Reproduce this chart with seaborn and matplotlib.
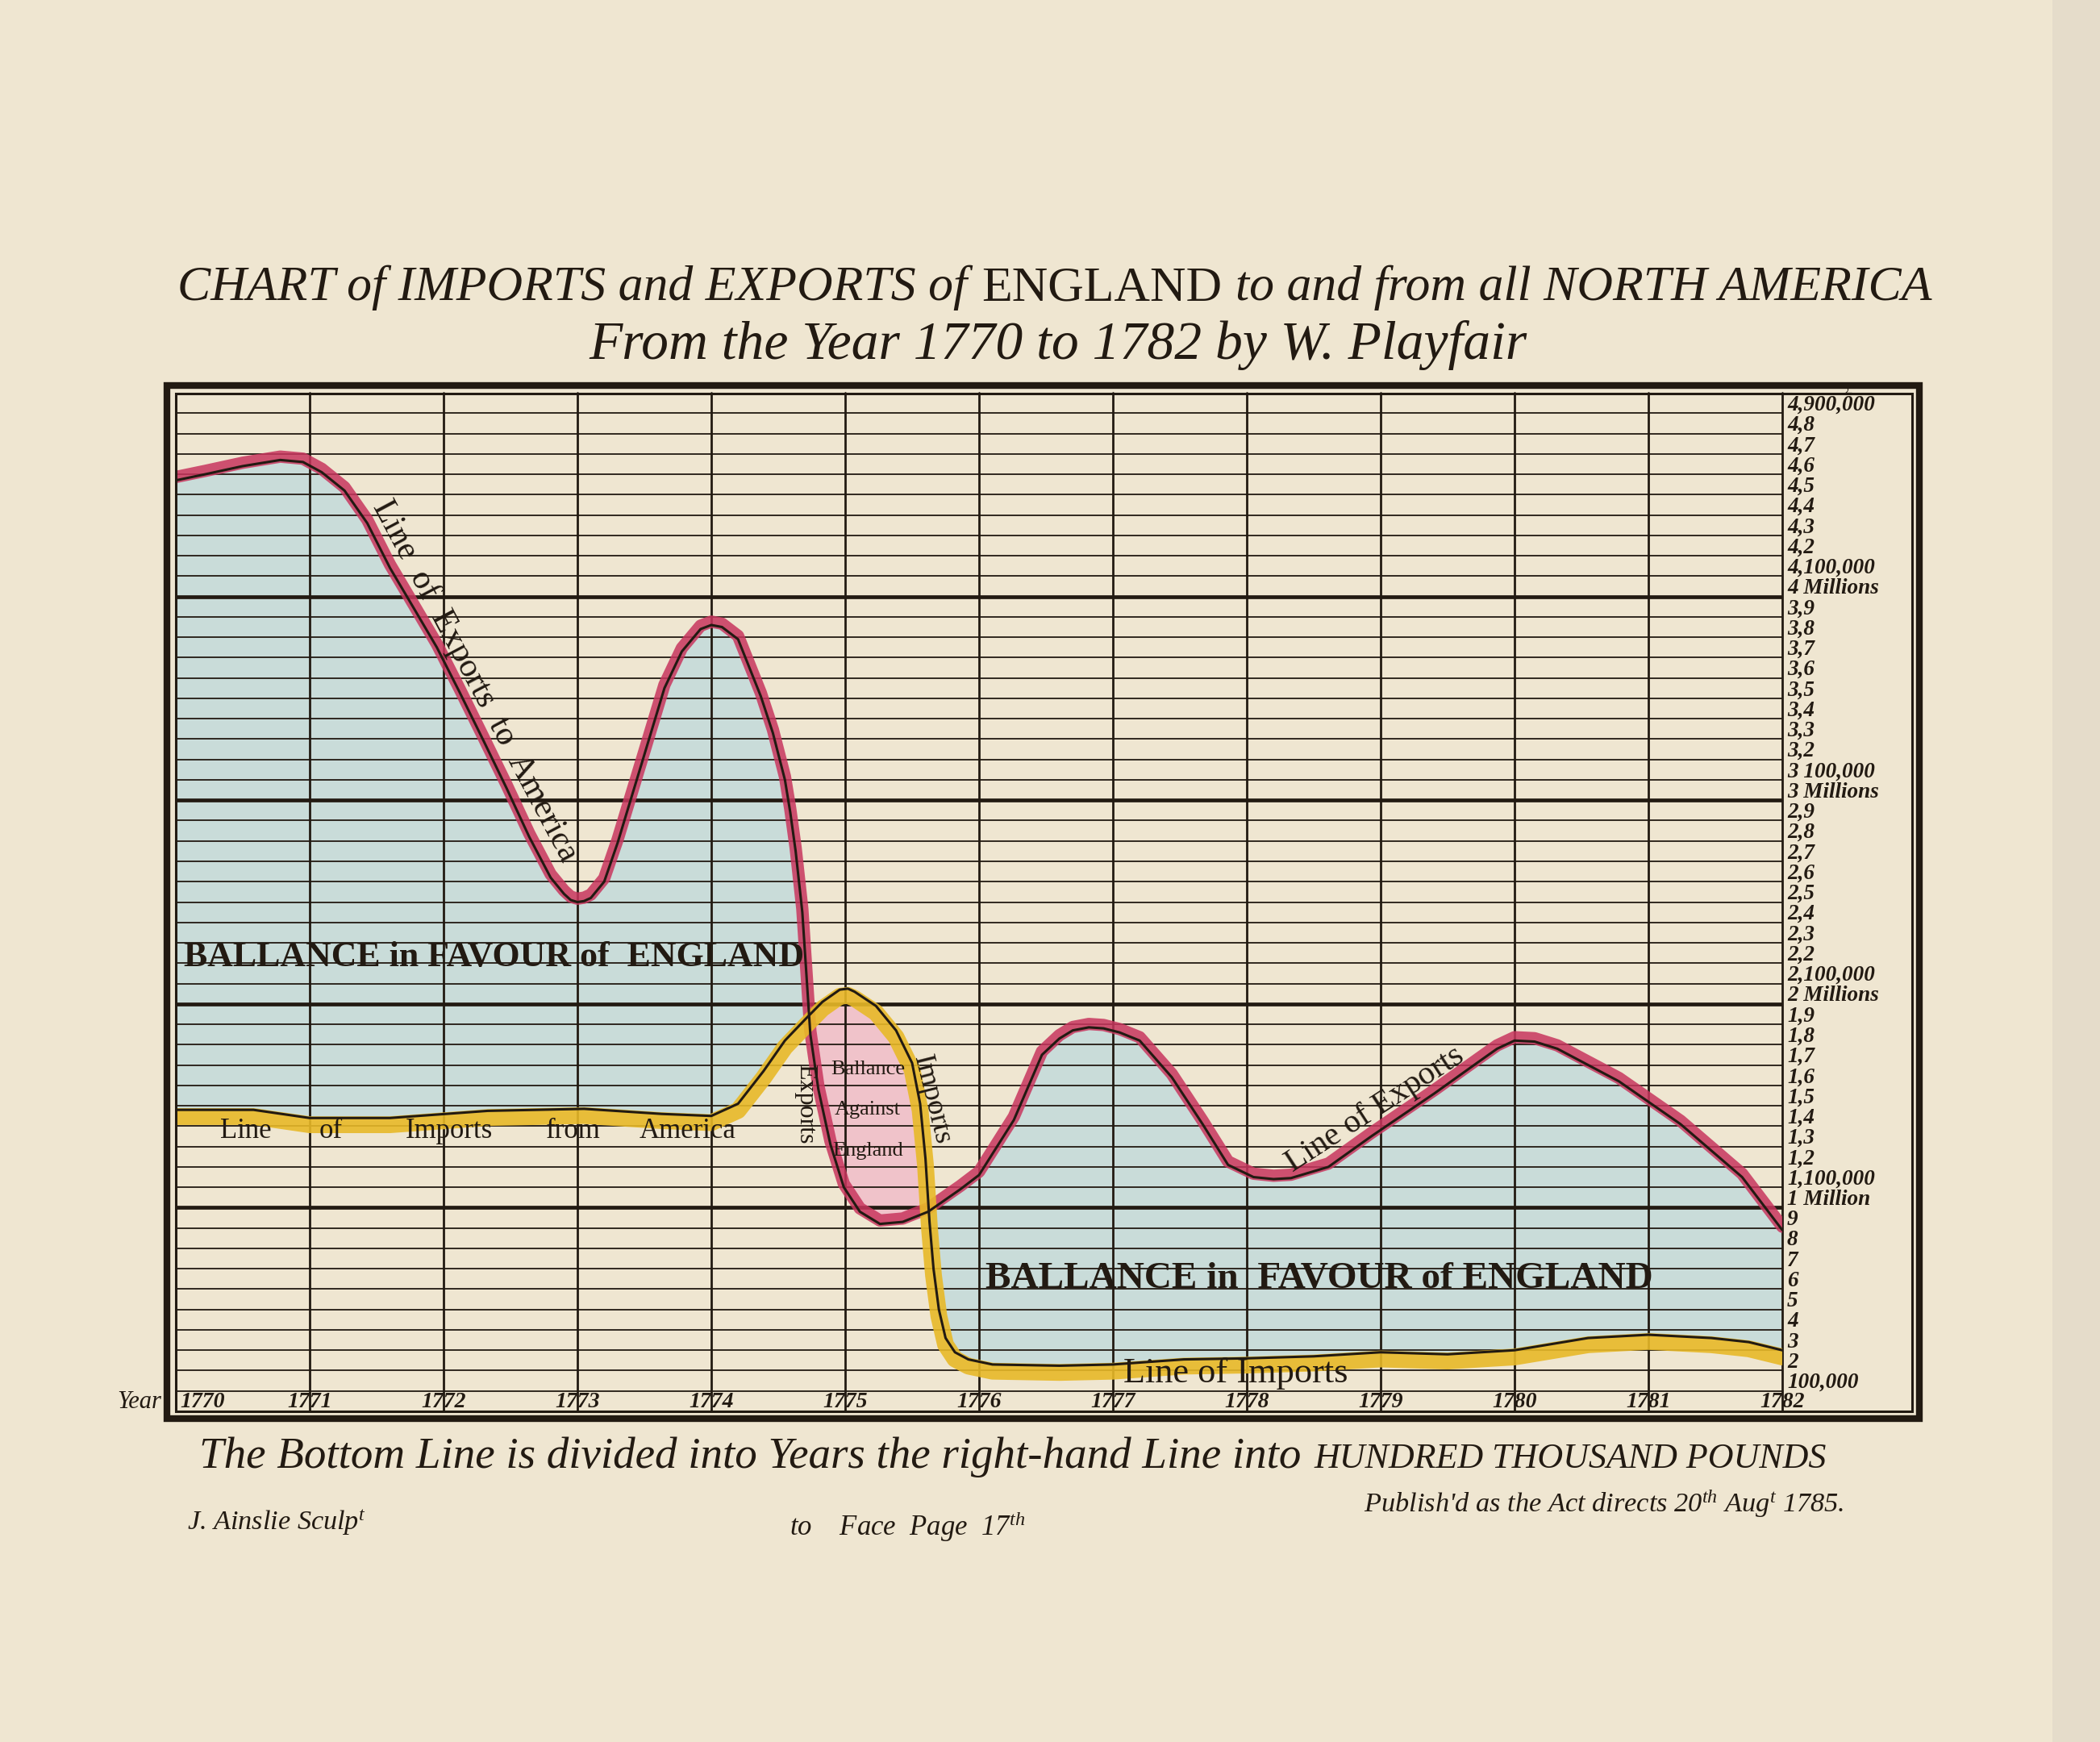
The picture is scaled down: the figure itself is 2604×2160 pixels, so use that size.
"""
Playfair's chart of imports and exports of England to and from North America,
1770-1782, redrawn with seaborn/matplotlib.
"""

import numpy as np
import pandas as pd
import matplotlib

matplotlib.use("Agg")
import matplotlib.pyplot as plt
from matplotlib.patches import Rectangle
from matplotlib.transforms import offset_copy, blended_transform_factory
import seaborn as sns

# values in hundred thousand pounds
export_years = [1770.00, 1770.22, 1770.50, 1770.78, 1770.95, 1771.09, 1771.26, 1771.43,
                1771.60, 1771.78, 1771.95, 1772.12, 1772.30, 1772.47, 1772.64, 1772.80,
                1772.90, 1772.95, 1773.00, 1773.05, 1773.10, 1773.20, 1773.30, 1773.48,
                1773.65, 1773.78, 1773.92, 1774.00, 1774.08, 1774.20, 1774.37, 1774.46,
                1774.55, 1774.59, 1774.63, 1774.68, 1774.71, 1774.74, 1774.80, 1774.89,
                1774.99, 1775.11, 1775.26, 1775.43, 1775.62, 1775.86, 1776.00, 1776.26,
                1776.47, 1776.60, 1776.70, 1776.82, 1776.93, 1777.05, 1777.20, 1777.44,
                1777.67, 1777.86, 1778.05, 1778.20, 1778.33, 1778.61, 1778.93, 1779.40,
                1779.73, 1779.87, 1780.00, 1780.15, 1780.32, 1780.78, 1781.24, 1781.70,
                1782.00]
export_values = [45.7, 46.0, 46.4, 46.7, 46.6, 46.1, 45.2, 43.6,
                 41.4, 39.4, 37.5, 35.3, 32.9, 30.6, 28.2, 26.2,
                 25.4, 25.1, 25.0, 25.05, 25.2, 26.0, 27.9, 31.8,
                 35.5, 37.3, 38.4, 38.6, 38.5, 37.9, 35.1, 33.3,
                 31.0, 29.4, 27.5, 24.5, 21.5, 18.5, 15.8, 13.1,
                 11.0, 9.8, 9.2, 9.3, 9.8, 10.9, 11.6, 14.3,
                 17.5, 18.3, 18.7, 18.85, 18.8, 18.6, 18.2, 16.4,
                 14.1, 12.1, 11.5, 11.4, 11.45, 12.0, 13.5, 15.6,
                 17.15, 17.8, 18.2, 18.15, 17.8, 16.2, 14.1, 11.5,
                 8.9]

import_years = [1770.00, 1770.58, 1771.00, 1771.60, 1772.33, 1773.05, 1773.63, 1774.00,
                1774.20, 1774.39, 1774.55, 1774.71, 1774.83, 1774.96, 1775.02, 1775.07,
                1775.23, 1775.38, 1775.50, 1775.56, 1775.60, 1775.63, 1775.66, 1775.70,
                1775.75, 1775.82, 1775.92, 1776.10, 1776.60, 1777.00, 1777.53, 1777.99,
                1778.50, 1779.00, 1779.50, 1780.00, 1780.55, 1781.00, 1781.47, 1781.75,
                1782.00]
import_values = [14.8, 14.8, 14.4, 14.4, 14.75, 14.85, 14.6, 14.5,
                 15.1, 16.7, 18.2, 19.3, 20.1, 20.7, 20.75, 20.6,
                 19.9, 18.7, 17.1, 15.1, 12.4, 9.3, 7.0, 5.0,
                 3.6, 2.9, 2.55, 2.3, 2.24, 2.3, 2.55, 2.6,
                 2.7, 2.9, 2.8, 3.0, 3.6, 3.76, 3.6, 3.4,
                 3.0]

year_ticks = list(range(1770, 1783))

scale_values = list(range(1, 50))
scale_labels = ["100,000", "2", "3", "4", "5", "6", "7", "8", "9",
                "1 Million", "1,100,000", "1,2", "1,3", "1,4", "1,5", "1,6", "1,7", "1,8", "1,9",
                "2 Millions", "2,100,000", "2,2", "2,3", "2,4", "2,5", "2,6", "2,7", "2,8", "2,9",
                "3 Millions", "3 100,000", "3,2", "3,3", "3,4", "3,5", "3,6", "3,7", "3,8", "3,9",
                "4 Millions", "4,100,000", "4,2", "4,3", "4,4", "4,5", "4,6", "4,7", "4,8",
                "4,900,000"]

PAPER = "#efe6d1"
INK = "#221a12"
BLUE = "#c9dcd9"
PINK = "#f0c3ca"
RED = "#c8365e"
YELLOW = "#e8b928"
SERIF = "Liberation Serif"

W, H, DPI = 2604, 2160, 100

sns.set_theme(style="white")
plt.rcParams["font.family"] = [SERIF, "DejaVu Serif"]
plt.rcParams["mathtext.fontset"] = "custom"
plt.rcParams["mathtext.rm"] = "Liberation Serif"
plt.rcParams["mathtext.it"] = "Liberation Serif:italic"


def fx(px):
    return px / W


def fy(py):
    return 1 - py / H


fig = plt.figure(figsize=(W / DPI, H / DPI), dpi=DPI, facecolor=PAPER)
renderer = fig.canvas.get_renderer()

ax = fig.add_axes([fx(218), fy(1750), fx(2210) - fx(218), fy(487) - fy(1750)])
ax.set_facecolor(PAPER)
ax.set_xlim(1770, 1782)
ax.set_ylim(0, 50)
for s in ax.spines.values():
    s.set_visible(False)

# engraved ruling
for v in scale_values:
    thick = v % 10 == 0
    ax.axhline(v, color=INK, lw=3.4 if thick else 1.3, zorder=2)
for yr in year_ticks[1:]:
    ax.axvline(yr, color=INK, lw=2.0, zorder=2, clip_on=False)

# washes between the two lines
xs = np.union1d(export_years, import_years)
ex = np.interp(xs, export_years, export_values)
im = np.interp(xs, import_years, import_values)
ax.fill_between(xs, im, ex, where=ex >= im, interpolate=True, color=BLUE, lw=0, zorder=1)
ax.fill_between(xs, im, ex, where=ex < im, interpolate=True, color=PINK, lw=0, zorder=1)

exp_df = pd.DataFrame({"year": export_years, "value": export_values})
imp_df = pd.DataFrame({"year": import_years, "value": import_values})

sns.lineplot(data=exp_df, x="year", y="value", color=RED, lw=11, alpha=0.85,
             estimator=None, sort=False, ax=ax, zorder=3,
             solid_capstyle="round", solid_joinstyle="round")
ax.lines[-1].set_transform(offset_copy(ax.transData, fig=fig, x=0, y=3, units="points"))
sns.lineplot(data=imp_df, x="year", y="value", color=YELLOW, lw=15, alpha=0.9,
             estimator=None, sort=False, ax=ax, zorder=3,
             solid_capstyle="round", solid_joinstyle="round")
ax.lines[-1].set_transform(offset_copy(ax.transData, fig=fig, x=0, y=-6, units="points"))
sns.lineplot(data=exp_df, x="year", y="value", color=INK, lw=2.2,
             estimator=None, sort=False, ax=ax, zorder=4, solid_joinstyle="round")
sns.lineplot(data=imp_df, x="year", y="value", color=INK, lw=2.2,
             estimator=None, sort=False, ax=ax, zorder=4, solid_joinstyle="round")

ax.set_xlim(1770, 1782)
ax.set_ylim(0, 50)
ax.set_xticks([])
ax.set_yticks([])
ax.set_xlabel("")
ax.set_ylabel("")


def fit(t, length_px):
    rot = t.get_rotation()
    t.set_rotation(0)
    w = t.get_window_extent(renderer).width
    t.set_fontsize(t.get_fontsize() * length_px / w)
    t.set_rotation(rot)


def rich_line(segments, xc_px, base_px, width_px, size):
    texts = [fig.text(0, fy(base_px), s, fontsize=size * k, va="baseline", ha="left",
                      color=INK, **st) for s, k, st in segments]

    def measure():
        ws = [t.get_window_extent(renderer).width for t in texts]
        gap = 0.28 * texts[0].get_fontsize() * DPI / 72
        return ws, gap

    ws, gap = measure()
    k = width_px / (sum(ws) + gap * (len(ws) - 1))
    for t in texts:
        t.set_fontsize(t.get_fontsize() * k)
    ws, gap = measure()
    x = xc_px - (sum(ws) + gap * (len(ws) - 1)) / 2
    for t, w in zip(texts, ws):
        t.set_x(fx(x))
        x += w + gap


ital = {"style": "italic"}
roman = {"style": "normal"}

# titles
rich_line([("CHART of IMPORTS and EXPORTS of", 1.0, ital),
           ("ENGLAND", 1.0, roman),
           ("to and from all NORTH AMERICA", 1.0, ital)], 1308, 372, 2174, 40)
rich_line([("From the Year 1770 to 1782 by W. Playfair", 1.0, ital)], 1312, 445, 1162, 38)
rich_line([("The Bottom Line is divided into Years the right-hand Line into", 1.0, ital),
           ("HUNDRED THOUSAND POUNDS", 0.8, ital)], 1256, 1820, 2021, 30)

# imprint lines
t = fig.text(fx(232), fy(1888), r"J. Ainslie Sculp$^{t}$", ha="left", va="center",
             style="italic", color=INK, fontsize=14)
fit(t, 224)
fig.text(fx(1125), fy(1893), r"to    Face  Page  17$^{th}$", ha="center", va="center",
         style="italic", color=INK, fontsize=25)
t = fig.text(fx(1989), fy(1865), r"Publish'd as the Act directs 20$^{th}$ Aug$^{t}$ 1785.",
             ha="center", va="center", style="italic", color=INK, fontsize=14)
fit(t, 598)

# frame
fig.add_artist(Rectangle((fx(218), fy(1750)), fx(2371) - fx(218), fy(488) - fy(1750),
                         fill=False, ec=INK, lw=2.2, transform=fig.transFigure, zorder=5))
fig.add_artist(Rectangle((fx(207), fy(1759)), fx(2380) - fx(207), fy(478) - fy(1759),
                         fill=False, ec=INK, lw=6.0, transform=fig.transFigure, zorder=5))
fig.text(fx(2293), fy(484), "£", ha="center", va="center", color=INK, fontsize=14,
         style="italic")

# year scale along the bottom
for yr in year_ticks:
    ax.text(yr + (0.03 if yr == 1770 else 0), 0.45, str(yr), ha="left" if yr == 1770 else "center",
            va="center", style="italic", fontweight="bold", fontsize=20, color=INK, zorder=6)
fig.text(fx(200), fy(1738), "Year", ha="right", va="center", style="italic",
         fontsize=22, color=INK)

# money scale on the right
scale_tr = blended_transform_factory(ax.transAxes, ax.transData)
for v, lab in zip(scale_values, scale_labels):
    ax.text(1.003, v + 0.4, lab, transform=scale_tr, ha="left", va="center",
            style="italic", fontweight="bold", fontsize=19.5, color=INK, clip_on=False)

# inscriptions on the field
t = ax.text(1770.06, 22.3, "BALLANCE in FAVOUR of  ENGLAND", ha="left", va="center",
            fontweight="bold", fontsize=30, color=INK, zorder=6)
fit(t, 768)
t = ax.text(1776.05, 6.5, "BALLANCE in  FAVOUR of ENGLAND", ha="left", va="center",
            fontweight="bold", fontsize=30, color=INK, zorder=6)
fit(t, 826)

for word, x in zip(["Line", "of", "Imports", "from", "America"],
                   [1770.52, 1771.16, 1772.04, 1772.97, 1773.82]):
    ax.text(x, 13.75, word, ha="center", va="center", fontsize=25, color=INK, zorder=6)

t = ax.text(1777.92, 1.85, "Line of Imports", ha="center", va="center",
            fontsize=24, color=INK, zorder=6)
fit(t, 279)

t = ax.text(1772.13, 35.5, "Line  of  Exports  to  America", ha="center", va="bottom",
            rotation=-62, rotation_mode="anchor", fontsize=22, color=INK, zorder=6)
fit(t, 500)
t = ax.text(1779.02, 14.2, "Line of Exports", ha="center", va="bottom",
            rotation=33, rotation_mode="anchor", fontsize=24, color=INK, zorder=6)
fit(t, 256)

for word, v in zip(["Ballance", "Against", "England"], [16.8, 14.8, 12.8]):
    ax.text(1775.17, v, word, ha="center", va="center", fontsize=19, color=INK, zorder=6)
t = ax.text(1774.70, 15.1, "Exports", ha="center", va="center", rotation=-90,
            rotation_mode="anchor", fontsize=19, color=INK, zorder=6)
fit(t, 100)
t = ax.text(1775.65, 15.3, "Imports", ha="center", va="center", rotation=-76,
            rotation_mode="anchor", fontsize=19, color=INK, zorder=6)
fit(t, 113)

# shadow of the book fold on the right
fig.add_artist(Rectangle((fx(2545), 0), fx(2604) - fx(2545), 1, color="#d9d2c2",
                         alpha=0.45, lw=0, transform=fig.transFigure, zorder=0))

fig.savefig("out.png", dpi=DPI, facecolor=PAPER)
